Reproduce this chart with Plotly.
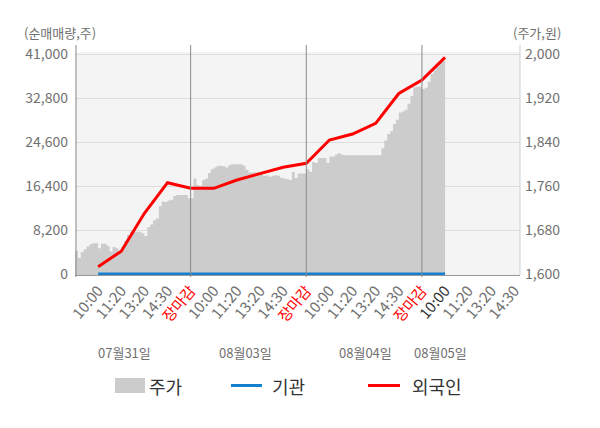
import plotly.graph_objects as go

# ---------------- data ----------------
time_labels = ["10:00", "11:20", "13:20", "14:30", "장마감"]
day_labels = ["07월31일", "08월03일", "08월04일", "08월05일"]

# stock price (주가, 원) sampled along the session timeline (8 samples per tick step)
price = [
    1642, 1629, 1640, 1645, 1650, 1654, 1656, 1656, 1647, 1655,
    1655, 1651, 1641, 1649, 1647, 1641, 1649, 1660, 1671, 1677,
    1677, 1677, 1677, 1674, 1669, 1685, 1690, 1698, 1701, 1724,
    1732, 1731, 1734, 1735, 1742, 1744, 1744, 1744, 1744, 1738,
    1738, 1774, 1762, 1760, 1771, 1774, 1784, 1791, 1794, 1797,
    1797, 1796, 1794, 1798, 1800, 1800, 1800, 1800, 1797, 1790,
    1785, 1785, 1785, 1785, 1783, 1779, 1780, 1777, 1779, 1780,
    1779, 1775, 1774, 1773, 1771, 1786, 1775, 1783, 1783, 1783,
    1791, 1786, 1804, 1802, 1811, 1811, 1811, 1802, 1814, 1814,
    1818, 1820, 1817, 1816, 1816, 1816, 1816, 1816, 1816, 1816,
    1816, 1816, 1816, 1816, 1816, 1816, 1829, 1843, 1855, 1860,
    1873, 1881, 1894, 1896, 1899, 1910, 1924, 1940, 1941, 1941,
    1937, 1939, 1950, 1964, 1971, 1978, 1984, 1988, 1990,
]

# net buying volume (순매매량, 주) at each labelled tick
foreign = [1360, 4254, 11327, 17037, 15992, 15992, 17540, 18716,
           19910, 20657, 25004, 26124, 28121, 33681, 36200, 40436]
institution = [0, 0, 0, 0, 0, 0, 0, 0, 0, 0, 0, 0, 0, 0, 0, 0]

SAMPLES_PER_TICK = 8
CURRENT_TICK = 15  # 08월05일 10:00

# ---------------- derived ----------------
price_x = list(range(len(price)))
flow_x = [(i + 1) * SAMPLES_PER_TICK for i in range(len(foreign))]

tickvals, ticktext = [], []
k = 0
for d in range(len(day_labels)):
    for t in time_labels:
        k += 1
        tickvals.append(k * SAMPLES_PER_TICK)
        if t == "장마감":
            ticktext.append('<span style="color:#ff0000">%s</span>' % t)
        elif k - 1 == CURRENT_TICK:
            ticktext.append('<span style="color:#333333">%s</span>' % t)
        else:
            ticktext.append(t)
day_bounds = [(d + 1) * len(time_labels) * SAMPLES_PER_TICK for d in range(len(day_labels) - 1)]

FONT = "Noto Sans CJK KR"

# page offset (browser body margin) -> work in screen px and convert
OFF = 8
W, H = 600 - OFF, 428 - OFF
SL, SR, ST, SB = 75, 520, 52, 275          # plot area in screen px
L, R, T, B = SL - OFF, W - (SR - OFF), ST - OFF, H - (SB - OFF)
pw, ph = W - L - R, H - T - B


def sx(px):
    return (px - SL) / pw


def sy(py):
    return (SB - py) / ph


fig = go.Figure()
# price area on primary axis (drawn underneath), flows on overlaying axis (drawn on top)
fig.add_trace(go.Scatter(
    x=price_x, y=price, name="주가", yaxis="y",
    mode="lines", line=dict(width=0, color="#cccccc", shape="hv"),
    fill="tozeroy", fillcolor="#cccccc", hoverinfo="skip", showlegend=False,
))
fig.add_trace(go.Scatter(
    x=flow_x, y=institution, name="기관", yaxis="y2", mode="lines",
    line=dict(width=3, color="#1580d0"), showlegend=False,
))
fig.add_trace(go.Scatter(
    x=flow_x, y=foreign, name="외국인", yaxis="y2", mode="lines",
    line=dict(width=3, color="#ff0000"), showlegend=False,
))

shapes = []
for xb in day_bounds:
    shapes.append(dict(type="line", xref="x", yref="paper", x0=xb, x1=xb,
                       y0=sy(277), y1=sy(45), line=dict(color="#8a8a8a", width=1)))
shapes.append(dict(type="line", xref="paper", yref="paper", x0=sx(76), x1=sx(76),
                   y0=sy(277), y1=sy(45), line=dict(color="#8a8a8a", width=1)))
shapes.append(dict(type="line", xref="paper", yref="paper", x0=1, x1=1,
                   y0=0, y1=sy(45), line=dict(color="#cfcfcf", width=1)))

# manual legend
legend_y = sy(385.5)
shapes.append(dict(type="rect", xref="paper", yref="paper",
                   x0=sx(115), x1=sx(145), y0=sy(393), y1=sy(378),
                   fillcolor="#cccccc", line=dict(width=0)))
shapes.append(dict(type="line", xref="paper", yref="paper",
                   x0=sx(231), x1=sx(262), y0=legend_y, y1=legend_y,
                   line=dict(color="#1580d0", width=3)))
shapes.append(dict(type="line", xref="paper", yref="paper",
                   x0=sx(368), x1=sx(400), y0=legend_y, y1=legend_y,
                   line=dict(color="#ff0000", width=3)))

annotations = []
for txt, px in [("주가", 147), ("기관", 270), ("외국인", 410)]:
    annotations.append(dict(text=txt, xref="paper", yref="paper", x=sx(px), y=legend_y,
                            xanchor="left", yanchor="middle", showarrow=False,
                            font=dict(family=FONT, size=18, color="#333333")))
for txt, px in zip(day_labels, [124, 245, 365, 440.5]):
    annotations.append(dict(text=txt, xref="paper", yref="paper", x=sx(px), y=sy(352),
                            xanchor="center", yanchor="middle", showarrow=False,
                            font=dict(family=FONT, size=13, color="#707070")))
annotations.append(dict(text="(순매매량,주)", xref="paper", yref="paper", x=sx(22),
                        y=sy(33), xanchor="left", yanchor="middle", showarrow=False,
                        font=dict(family=FONT, size=13, color="#707070")))
annotations.append(dict(text="(주가,원)", xref="paper", yref="paper", x=sx(563),
                        y=sy(33), xanchor="right", yanchor="middle", showarrow=False,
                        font=dict(family=FONT, size=13, color="#707070")))

# y ranges: zero value sits 1px above plot bottom, top tick at 54.3px
per_px_vol = 41000 / (274 - 54.3)
per_px_price = 400 / (274 - 54.3)
vol_range = [-(SB - 274) * per_px_vol, 41000 + (54.3 - ST) * per_px_vol]
price_range = [1600 - (SB - 274) * per_px_price, 2000 + (54.3 - ST) * per_px_price]

fig.update_layout(
    width=W, height=H,
    margin=dict(l=L, r=R, t=T, b=B),
    paper_bgcolor="#ffffff", plot_bgcolor="#f4f4f4",
    font=dict(family=FONT, color="#707070", size=14),
    showlegend=False,
    xaxis=dict(range=[0, 19.24 * SAMPLES_PER_TICK], tickvals=tickvals, ticktext=ticktext,
               tickangle=-50, showgrid=False, zeroline=False, showline=True,
               linecolor="#999999", linewidth=1, ticks="",
               tickfont=dict(family=FONT, size=15, color="#707070")),
    # price axis (right)
    yaxis=dict(range=price_range, side="right",
               tickvals=[1600, 1680, 1760, 1840, 1920, 2000], tickformat=",d",
               showgrid=True, gridcolor="#dddddd", gridwidth=1,
               zeroline=False, showline=False, ticks="", ticklabelstandoff=4,
               tickfont=dict(family=FONT, size=14, color="#707070")),
    # volume axis (left), overlaying so its lines are drawn above the price area
    yaxis2=dict(range=vol_range, overlaying="y", side="left",
                tickvals=[0, 8200, 16400, 24600, 32800, 41000], tickformat=",d",
                showgrid=False, zeroline=True, zerolinecolor="#aaaaaa", zerolinewidth=1,
                showline=False, ticks="", ticklabelstandoff=6,
                tickfont=dict(family=FONT, size=14, color="#707070")),
    shapes=shapes, annotations=annotations,
)

fig.write_html("out.html")
